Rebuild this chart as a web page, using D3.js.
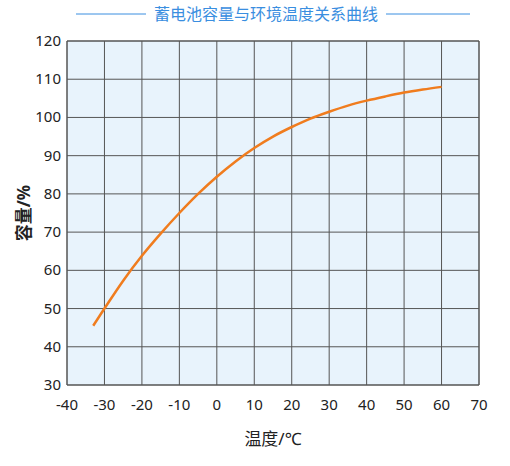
<!DOCTYPE html><html><head><meta charset="utf-8"><script src="https://d3js.org/d3.v7.min.js"></script>
<style>body{margin:0;background:#fff}</style></head><body><script>
const temps=[-33,-30,-25,-20,-15,-10,-5,0,5,10,15,20,25,30,35,40,45,50,55,60];
const caps=[45.5,50,57.3,63.8,69.6,75,80,84.5,88.5,92,95,97.5,99.7,101.5,103.1,104.4,105.5,106.5,107.3,108];
const xTicks=d3.range(-40,71,10), yTicks=d3.range(30,121,10);
const W=510,H=466,m={l:67,r:31,t:41,b:81};
const svg=d3.select("body").append("svg").attr("width",W).attr("height",H);
const x=d3.scaleLinear().domain([-40,70]).range([m.l,W-m.r]);
const y=d3.scaleLinear().domain([30,120]).range([H-m.b,m.t]);
svg.append("rect").attr("x",m.l).attr("y",m.t).attr("width",W-m.l-m.r).attr("height",H-m.t-m.b).attr("fill","#e8f3fc");
const g=svg.append("g");
g.selectAll(".vx").data(xTicks).join("line").attr("x1",d=>x(d)).attr("x2",d=>x(d)).attr("y1",m.t).attr("y2",H-m.b).attr("stroke","#555").attr("stroke-width",d=>d==-40||d==70?1.5:1);
g.selectAll(".hy").data(yTicks).join("line").attr("y1",d=>y(d)).attr("y2",d=>y(d)).attr("x1",m.l).attr("x2",W-m.r).attr("stroke","#555").attr("stroke-width",d=>d==30||d==120?1.5:1);
const f="'Noto Sans','Noto Sans CJK SC',sans-serif";
svg.selectAll(".xl").data(xTicks).join("text").attr("x",d=>x(d)).attr("y",H-m.b+25).attr("text-anchor","middle").attr("font-family",f).attr("font-size",15).attr("fill","#222").text(d=>d);
svg.selectAll(".yl").data(yTicks).join("text").attr("x",m.l-6).attr("y",d=>y(d)+5).attr("text-anchor","end").attr("font-family",f).attr("font-size",15).attr("fill","#222").text(d=>d);
svg.append("path").datum(temps.map((t,i)=>[t,caps[i]])).attr("d",d3.line().x(d=>x(d[0])).y(d=>y(d[1])).curve(d3.curveCatmullRom)).attr("fill","none").attr("stroke","#f07c1e").attr("stroke-width",2.5);
svg.append("text").attr("x",273).attr("y",445).attr("text-anchor","middle").attr("font-family",f).attr("font-size",17).attr("fill","#222").text("温度/℃");
svg.append("text").attr("transform","translate(30,213) rotate(-90)").attr("text-anchor","middle").attr("font-family",f).attr("font-size",17).attr("font-weight","bold").attr("fill","#222").text("容量/%");
svg.append("text").attr("x",266).attr("y",20).attr("text-anchor","middle").attr("font-family","'Noto Sans CJK SC',sans-serif").attr("font-size",16).attr("fill","#3a8ee0").text("蓄电池容量与环境温度关系曲线");
svg.append("line").attr("x1",76).attr("x2",146).attr("y1",14).attr("y2",14).attr("stroke","#3a8ee0");
svg.append("line").attr("x1",386).attr("x2",470).attr("y1",14).attr("y2",14).attr("stroke","#3a8ee0");
</script></body></html>
